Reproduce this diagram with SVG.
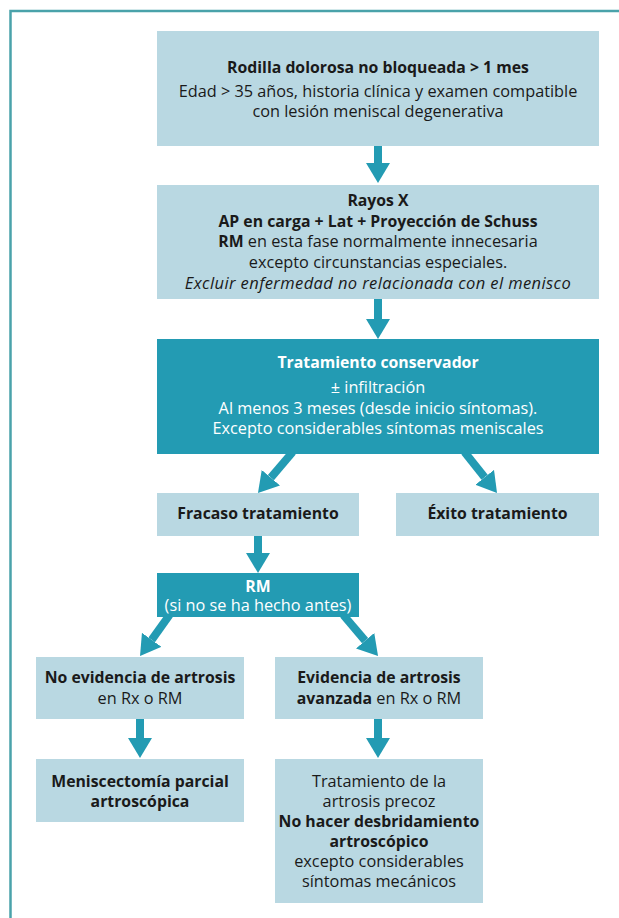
<svg xmlns="http://www.w3.org/2000/svg" width="619" height="918" viewBox="0 0 619 918">
<defs>
<style>
.lb{fill:#b9d8e2}
.tb{fill:#239bb3}
.t{font-family:"Open Sans","Noto Sans",sans-serif;font-size:16.3px;fill:#1a1a1a;text-anchor:middle}
.w{fill:#ffffff}
.b{font-weight:bold;font-size:15.8px}
.i{font-style:italic;font-size:16.5px;letter-spacing:0.4px}
.c{stroke:#239bb3;stroke-width:8;fill:none}
</style>
<marker id="ah" markerUnits="userSpaceOnUse" viewBox="0 0 20 24" markerWidth="20" markerHeight="24" refX="0" refY="12" orient="auto">
<path d="M0,0 L20,12 L0,24 Z" fill="#239bb3"/>
</marker>
</defs>
<rect width="619" height="918" fill="#ffffff"/>
<path d="M10.5,918 V11 H619" fill="none" stroke="#4aa2aa" stroke-width="2.5"/>

<g id="connectors">
<line class="c" x1="378" y1="145" x2="378" y2="163" marker-end="url(#ah)"/>
<line class="c" x1="378" y1="298" x2="378" y2="319" marker-end="url(#ah)"/>
<line class="c" x1="292.7" y1="452" x2="270.9" y2="477.7" marker-end="url(#ah)"/>
<line class="c" x1="464.5" y1="452" x2="484.6" y2="477.3" marker-end="url(#ah)"/>
<line class="c" x1="258" y1="535" x2="258" y2="553" marker-end="url(#ah)"/>
<line class="c" x1="169.5" y1="615" x2="151.7" y2="639.8" marker-end="url(#ah)"/>
<line class="c" x1="343.3" y1="615" x2="365.1" y2="640.7" marker-end="url(#ah)"/>
<line class="c" x1="140" y1="718" x2="140" y2="738" marker-end="url(#ah)"/>
<line class="c" x1="378" y1="718" x2="378" y2="738" marker-end="url(#ah)"/>
</g>

<g id="n1">
<rect class="lb" x="157" y="31" width="442" height="115"/>
<text class="t b" x="378" y="73">Rodilla dolorosa no bloqueada &gt; 1 mes</text>
<text class="t" x="378" y="97">Edad &gt; 35 años, historia clínica y examen compatible</text>
<text class="t" x="378" y="117">con lesión meniscal degenerativa</text>
</g>

<g id="n2">
<rect class="lb" x="157" y="185" width="442" height="114"/>
<text class="t b" x="378" y="206">Rayos X</text>
<text class="t b" x="378" y="227">AP en carga + Lat + Proyección de Schuss</text>
<text class="t" x="378" y="247"><tspan class="b">RM</tspan> en esta fase normalmente innecesaria</text>
<text class="t" x="378" y="268">excepto circunstancias especiales.</text>
<text class="t i" x="378" y="289">Excluir enfermedad no relacionada con el menisco</text>
</g>

<g id="n3">
<rect class="tb" x="157" y="339" width="442" height="115"/>
<text class="t w b" x="378" y="368">Tratamiento conservador</text>
<text class="t w" x="378" y="393">± infiltración</text>
<text class="t w" x="378" y="414">Al menos 3 meses (desde inicio síntomas).</text>
<text class="t w" x="378" y="434">Excepto considerables síntomas meniscales</text>
</g>

<g id="n4">
<rect class="lb" x="157" y="493" width="202" height="43"/>
<text class="t b" x="258" y="519">Fracaso tratamiento</text>
</g>

<g id="n5">
<rect class="lb" x="396" y="493" width="203" height="43"/>
<text class="t b" x="497.5" y="519">Éxito tratamiento</text>
</g>

<g id="n6">
<rect class="tb" x="157" y="573" width="202" height="44"/>
<text class="t w b" x="258" y="592">RM</text>
<text class="t w" x="258" y="611">(si no se ha hecho antes)</text>
</g>

<g id="n7">
<rect class="lb" x="36" y="657" width="208" height="62"/>
<text class="t b" x="140" y="683">No evidencia de artrosis</text>
<text class="t" x="140" y="704">en Rx o RM</text>
</g>

<g id="n8">
<rect class="lb" x="275" y="657" width="208" height="62"/>
<text class="t b" x="379" y="683">Evidencia de artrosis</text>
<text class="t" x="379" y="704"><tspan class="b">avanzada</tspan> en Rx o RM</text>
</g>

<g id="n9">
<rect class="lb" x="36" y="759" width="208" height="63"/>
<text class="t b" x="140" y="787">Meniscectomía parcial</text>
<text class="t b" x="140" y="807">artroscópica</text>
</g>

<g id="n10">
<rect class="lb" x="275" y="759" width="208" height="144"/>
<text class="t" x="379" y="787">Tratamiento de la</text>
<text class="t" x="379" y="807">artrosis precoz</text>
<text class="t b" x="379" y="827">No hacer desbridamiento</text>
<text class="t b" x="379" y="847">artroscópico</text>
<text class="t" x="379" y="867">excepto considerables</text>
<text class="t" x="379" y="887">síntomas mecánicos</text>
</g>
</svg>
